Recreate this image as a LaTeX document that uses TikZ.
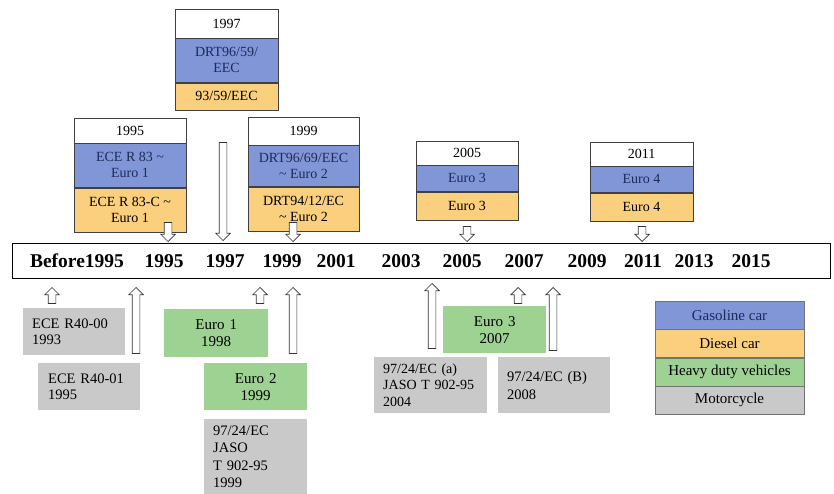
\documentclass[tikz,border=0pt]{standalone}
\usepackage{fontspec}
\setmainfont{Liberation Serif}
\usepackage{tikz}
\usetikzlibrary{positioning, shapes.arrows}
\definecolor{gasblue}{RGB}{128,150,214}
\definecolor{dieselorange}{RGB}{250,207,126}
\definecolor{hdvgreen}{RGB}{157,210,146}
\definecolor{motogray}{RGB}{201,201,201}
\definecolor{navytext}{RGB}{30,42,90}

\begin{document}
\begin{tikzpicture}[
		x=1pt, y=-1pt,
		every node/.style={font=\fontsize{14}{16}\selectfont, inner sep=0pt},
		yearhead/.style={draw=black!75, fill=white, align=center},
		gasbox/.style={draw=black!75, fill=gasblue, text=navytext, align=center},
		dieselbox/.style={draw=black!75, fill=dieselorange, align=center},
		hdvbox/.style={fill=hdvgreen, align=center, font=\fontsize{15}{17}\selectfont},
		motobox/.style={fill=motogray, align=left, font=\fontsize{14.5}{16.5}\selectfont},
		legendbox/.style={draw=black!55, minimum width=149pt, minimum height=28pt, font=\fontsize{15}{17}\selectfont},
		yearlabel/.style={font=\bfseries\fontsize{19.5}{22}\selectfont},
		blkarrow/.style={single arrow, draw=black!80, fill=white, line width=0.7pt, minimum width=14pt, inner ysep=3.5pt, inner xsep=0pt, single arrow head extend=3.5pt}
	]
	\useasboundingbox (0,0) rectangle (834,494);

	% timeline
	\node[draw=black, line width=0.9pt, minimum width=818pt, minimum height=35pt] (timeline) at (421,260.5) {};
	\foreach \lab/\xx in {Before1995/77, 1995/164, 1997/225, 1999/282, 2001/336, 2003/401, 2005/462, 2007/524, 2009/587, 2011/643, 2013/694, 2015/751}
		\node[yearlabel] (yr\lab) at (\xx,261) {\lab};

	% standards for cars, above the line
	\node[yearhead, minimum width=103pt, minimum height=29pt] (h97) at (226.5,23.5) {1997};
	\node[gasbox, below=0pt of h97, minimum width=103pt, minimum height=44pt] (g97) {DRT96/59/\\EEC};
	\node[dieselbox, below=0pt of g97, minimum width=103pt, minimum height=27pt] (d97) {93/59/EEC};

	\node[yearhead, minimum width=112pt, minimum height=25pt] (h95) at (130,130.5) {1995};
	\node[gasbox, below=0pt of h95, minimum width=112pt, minimum height=44pt] (g95) {ECE R 83 \textasciitilde\\Euro 1};
	\node[dieselbox, below=0pt of g95, minimum width=112pt, minimum height=44pt] (d95) {ECE R 83-C \textasciitilde\\Euro 1};

	\node[yearhead, minimum width=111pt, minimum height=28pt] (h99) at (303.5,131) {1999};
	\node[gasbox, below=0pt of h99, minimum width=111pt, minimum height=41pt] (g99) {DRT96/69/EEC\\\textasciitilde{} Euro 2};
	\node[dieselbox, below=0pt of g99, minimum width=111pt, minimum height=44pt] (d99) {DRT94/12/EC\\\textasciitilde{} Euro 2};

	\node[yearhead, minimum width=102pt, minimum height=24pt] (h05) at (467,153) {2005};
	\node[gasbox, below=0pt of h05, minimum width=102pt, minimum height=26pt] (g05) {Euro 3};
	\node[dieselbox, below=0pt of g05, minimum width=102pt, minimum height=28pt] (d05) {Euro 3};

	\node[yearhead, minimum width=103pt, minimum height=24pt] (h11) at (641.5,154) {2011};
	\node[gasbox, below=0pt of h11, minimum width=103pt, minimum height=26pt] (g11) {Euro 4};
	\node[dieselbox, below=0pt of g11, minimum width=103pt, minimum height=28pt] (d11) {Euro 4};

	% arrows down to the line
	\node[blkarrow, rotate=-90, minimum height=19pt, anchor=tip] (a95) at (168,242) {};
	\node[blkarrow, rotate=-90, minimum height=98pt, anchor=tip] (a97) at (223,241) {};
	\node[blkarrow, rotate=-90, minimum height=19pt, anchor=tip] (a99) at (293,242) {};
	\node[blkarrow, rotate=-90, minimum height=15pt, anchor=tip] (a05) at (467,242) {};
	\node[blkarrow, rotate=-90, minimum height=15pt, anchor=tip] (a11) at (642,242) {};

	% heavy duty vehicles and motorcycles, below the line
	\node[motobox, text width=84pt, inner xsep=9pt, minimum height=47pt, anchor=north west] (r4000) at (23,308) {ECE R40-00\\1993};
	\node[motobox, text width=82pt, inner xsep=10pt, minimum height=47pt, anchor=north west] (r4001) at (38,363) {ECE R40-01\\1995};
	\node[hdvbox, text width=104pt, minimum height=48pt, anchor=north west] (e1) at (164,309) {Euro 1\\1998};
	\node[hdvbox, text width=103pt, minimum height=47pt, anchor=north west] (e2) at (204,363) {Euro 2\\1999};
	\node[motobox, text width=85pt, inner xsep=9pt, minimum height=75pt, anchor=north west, font=\fontsize{14.5}{17.5}\selectfont] (jaso99) at (204,419) {97/24/EC\\JASO\\T 902-95\\1999};
	\node[hdvbox, text width=103pt, minimum height=47pt, anchor=north west] (e3) at (443,306) {Euro 3\\2007};
	\node[motobox, text width=95pt, inner xsep=9pt, minimum height=56pt, anchor=north west, font=\fontsize{14}{16.5}\selectfont] (ec04) at (374,357) {97/24/EC (a)\\JASO T 902-95\\2004};
	\node[motobox, text width=94pt, inner xsep=9pt, minimum height=56pt, anchor=north west, font=\fontsize{14.5}{18}\selectfont] (ec08) at (498,357) {97/24/EC (B)\\2008};

	% arrows up to the line
	\node[blkarrow, rotate=90, minimum height=16pt, anchor=tip] (u4000) at (52,287) {};
	\node[blkarrow, rotate=90, minimum height=66pt, anchor=tip] (u4001) at (136,287) {};
	\node[blkarrow, rotate=90, minimum height=16pt, anchor=tip] (ue1) at (260,287) {};
	\node[blkarrow, rotate=90, minimum height=66pt, anchor=tip] (ue2) at (293,287) {};
	\node[blkarrow, rotate=90, minimum height=65pt, anchor=tip] (uec04) at (432,283) {};
	\node[blkarrow, rotate=90, minimum height=16pt, anchor=tip] (ue3) at (518,287) {};
	\node[blkarrow, rotate=90, minimum height=63pt, anchor=tip] (uec08) at (553,287) {};

	% legend
	\node[legendbox, fill=gasblue, text=navytext] (lgas) at (729.5,315) {Gasoline car};
	\node[legendbox, fill=dieselorange, below=0pt of lgas] (ldiesel) {Diesel car};
	\node[legendbox, fill=hdvgreen, below=0pt of ldiesel] (lhdv) {Heavy duty vehicles};
	\node[legendbox, fill=motogray, below=0pt of lhdv] (lmoto) {Motorcycle};
\end{tikzpicture}
\end{document}
